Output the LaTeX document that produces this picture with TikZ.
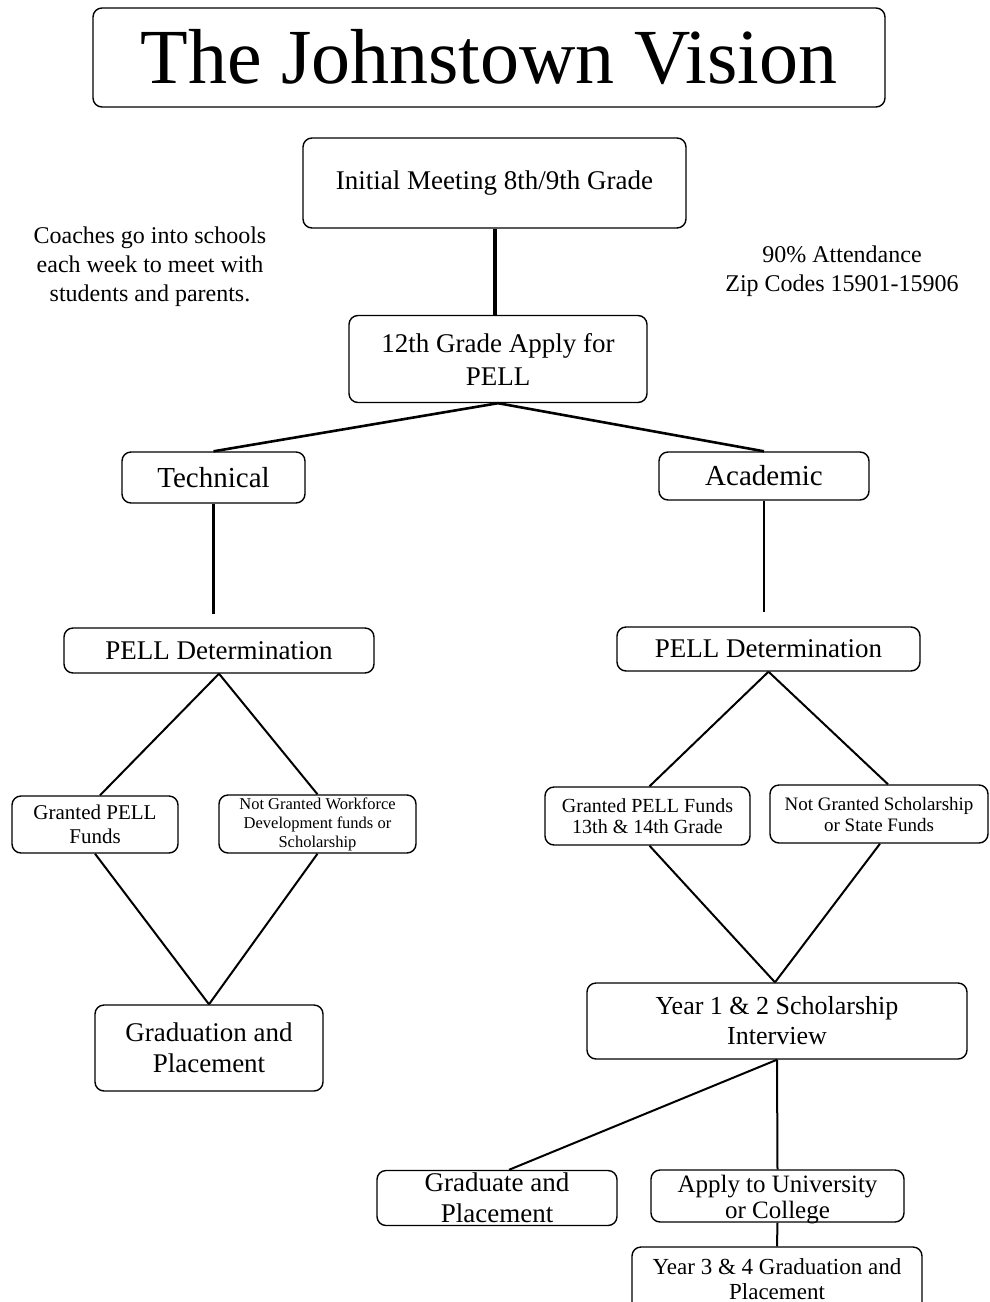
\documentclass[tikz,border=0pt]{standalone}
\usepackage{fontspec}
\setmainfont{Liberation Serif}
\newcommand{\fs}[2]{\fontsize{#1}{#2}\selectfont}
\begin{document}
\begin{tikzpicture}[x=1pt,y=-1pt,
  box/.style={draw, rounded corners=9pt, line width=1.4pt, align=center, inner sep=0pt},
  conn/.style={line width=2.6pt},
  thick conn/.style={line width=4pt},
  thin conn/.style={line width=2pt},
  txt/.style={align=center, inner sep=0pt}]
\useasboundingbox (0,0) rectangle (990,1302);
% title
\node[box, minimum width=792pt, minimum height=99pt, font=\fs{78}{90}] (title) at (489,57.5) {The Johnstown Vision};
% top
\node[box, minimum width=383pt, minimum height=90pt, font=\fs{27}{33}] (init) at (494.5,183) {Initial Meeting 8th/9th Grade};
\node[txt, font=\fs{24}{29}] (coach) at (150,267) {Coaches go into schools\\each week to meet with\\students and parents.};
\node[txt, font=\fs{24}{29}] (att) at (842,271) {90\% Attendance\\Zip Codes 15901-15906};
\node[box, minimum width=298pt, minimum height=87pt, font=\fs{27}{33}] (apply) at (498,359) {12th Grade Apply for\\PELL};
% branches
\node[box, minimum width=183pt, minimum height=51pt, font=\fs{29}{34}] (tech) at (213.5,477.5) {Technical};
\node[box, minimum width=210pt, minimum height=48pt, font=\fs{29}{34}] (acad) at (764,476) {Academic};
\node[box, minimum width=310pt, minimum height=45pt, font=\fs{27}{32}] (pellL) at (219,650.5) {PELL Determination};
\node[box, minimum width=303pt, minimum height=44pt, font=\fs{27}{32}] (pellR) at (768.5,649) {PELL Determination};
% left diamond
\node[box, minimum width=166pt, minimum height=57pt, font=\fs{21}{24}] (grL) at (95,824.5) {Granted PELL\\Funds};
\node[box, minimum width=197pt, minimum height=58pt, font=\fs{16.5}{19}] (ngL) at (317.5,824) {Not Granted Workforce\\Development funds or\\Scholarship};
\node[box, minimum width=228pt, minimum height=86pt, font=\fs{27}{31}] (gradL) at (209,1048) {Graduation and\\Placement};
% right diamond
\node[box, minimum width=205pt, minimum height=58pt, font=\fs{20}{21}] (grR) at (647.5,816) {Granted PELL Funds\\13th \& 14th Grade};
\node[box, minimum width=218pt, minimum height=58pt, font=\fs{19}{21}] (ngR) at (879,814) {Not Granted Scholarship\\or State Funds};
\node[box, minimum width=380pt, minimum height=76pt, font=\fs{26}{30}] (year12) at (777,1021) {Year 1 \& 2 Scholarship\\Interview};
% bottom
\node[box, minimum width=240pt, minimum height=55pt, font=\fs{27}{31}] (gp) at (497,1198) {Graduate and\\Placement};
\node[box, minimum width=253pt, minimum height=52pt, font=\fs{25}{26}] (univ) at (777.5,1196) {\raisebox{-4pt}[\height][\depth]{\parbox{250pt}{\centering Apply to University\\or College}}};
\node[box, minimum width=290pt, minimum height=64pt, font=\fs{23}{25}] (year34) at (777,1279) {Year 3 \& 4 Graduation and\\Placement};
% connectors
\draw[thick conn] (init.south) -- (apply.north -| init.south);
\draw[conn] (apply.south) -- (tech.north);
\draw[conn] (apply.south) -- (acad.north);
\draw[conn, shorten >=13pt] (tech.south) -- (pellL.north -| tech.south);
\draw[conn, shorten >=14pt] (acad.south) -- (pellR.north -| acad.south);
\draw[thin conn] (pellL.south) -- ([xshift=5pt]grL.north);
\draw[thin conn] (pellL.south) -- (ngL.north);
\draw[thin conn] (grL.south) -- (gradL.north);
\draw[thin conn] (ngL.south) -- (gradL.north);
\draw[thin conn] (pellR.south) -- ([xshift=2pt]grR.north);
\draw[thin conn] (pellR.south) -- ([xshift=9pt]ngR.north);
\draw[thin conn] ([xshift=2pt]grR.south) -- ([xshift=-2pt]year12.north);
\draw[thin conn] ([xshift=1pt]ngR.south) -- ([xshift=-2pt]year12.north);
\draw[thin conn] (year12.south) -- ([xshift=12pt]gp.north);
\draw[thin conn] (year12.south) -- (univ.north);
\draw[thin conn] (univ.south) -- (year34.north);
\end{tikzpicture}
\end{document}
